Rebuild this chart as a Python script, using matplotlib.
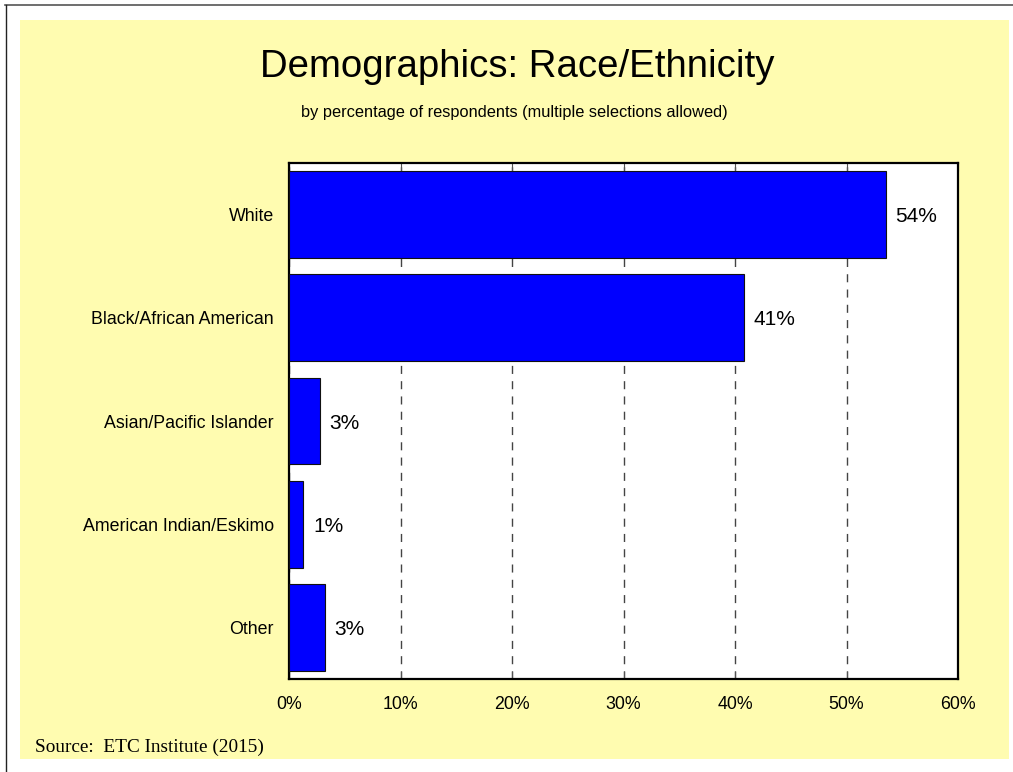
import matplotlib.pyplot as plt
from matplotlib.patches import Rectangle
from matplotlib.lines import Line2D

# data
categories = ['White', 'Black/African American', 'Asian/Pacific Islander',
              'American Indian/Eskimo', 'Other']
values = [53.5, 40.8, 2.8, 1.3, 3.2]
labels = ['54%', '41%', '3%', '1%', '3%']
ticks = [0, 10, 20, 30, 40, 50, 60]
tick_labels = ['0%', '10%', '20%', '30%', '40%', '50%', '60%']

plt.rcParams['font.family'] = 'Liberation Sans'

fig = plt.figure(figsize=(10.13, 7.72), dpi=100)
fig.patch.set_facecolor('white')

# yellow panel and outer frame lines
fig.patches.append(Rectangle((20 / 1013, 1 - 759 / 772), 989 / 1013, 739 / 772,
                             transform=fig.transFigure, facecolor='#FFFCB0',
                             edgecolor='none', zorder=-5))
fig.lines.append(Line2D([5 / 1013, 1], [1 - 4.5 / 772, 1 - 4.5 / 772],
                        transform=fig.transFigure, color='#555555', lw=1.2))
fig.lines.append(Line2D([5.5 / 1013, 5.5 / 1013], [0, 1 - 4.5 / 772],
                        transform=fig.transFigure, color='#222222', lw=1.0))

ax = fig.add_axes([289 / 1013, 1 - 679 / 772, 669 / 1013, 516 / 772])
ax.set_zorder(2)
ax.set_facecolor('white')

y = range(len(categories))
ax.barh(y, values, height=0.84, color='#0000FF', edgecolor='#111111',
        linewidth=0.8, zorder=3)
for i, (v, lab) in enumerate(zip(values, labels)):
    ax.text(v + 0.85, i + 0.02, lab, va='center', ha='left', fontsize=15,
            zorder=4)

ax.set_xlim(0, 60)
ax.set_ylim(len(categories) - 0.5, -0.5)
ax.set_xticks(ticks)
ax.set_xticklabels(tick_labels, fontsize=12.8)
ax.set_yticks(list(y))
ax.set_yticklabels(categories, fontsize=12.8)
ax.tick_params(axis='y', length=0, pad=10.8)
ax.tick_params(axis='x', bottom=True, top=True, direction='in', length=6,
               color='#555555', pad=12)
ax.xaxis.grid(True, linestyle=(0, (5.8, 5.2)), color='#444444', linewidth=1.0,
              zorder=1)
ax.set_axisbelow(True)
for s in ax.spines.values():
    s.set_linewidth(1.6)
    s.set_color('black')

fig.text(517 / 1013, 1 - 67 / 772, 'Demographics: Race/Ethnicity',
         ha='center', va='center', fontsize=27.6)
fig.text(514 / 1013, 1 - 112 / 772,
         'by percentage of respondents (multiple selections allowed)',
         ha='center', va='center', fontsize=11.8)
fig.text(35 / 1013, 1 - 747 / 772, 'Source:  ETC Institute (2015)',
         ha='left', va='center', fontsize=13.9, family='Liberation Serif')

fig.savefig('out.png', dpi=100, facecolor=fig.get_facecolor())
